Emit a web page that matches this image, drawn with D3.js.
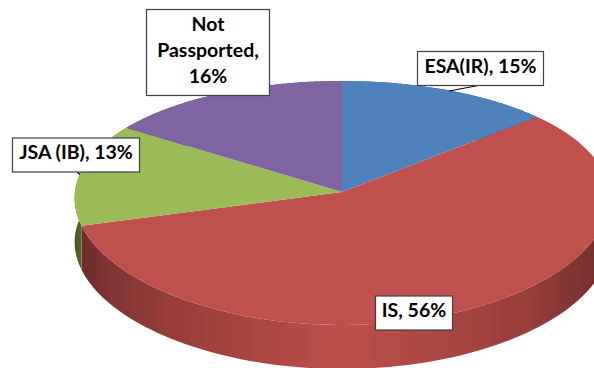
<!DOCTYPE html>
<html><head><meta charset="utf-8">
<script src="https://cdnjs.cloudflare.com/ajax/libs/d3/7.8.5/d3.min.js"></script>
<style>html,body{margin:0;padding:0;background:#fff}svg{display:block}</style>
</head><body><svg id="c" width="594" height="368"></svg>
<script>
// Data: printed label percentages, and wedge shares
const categories = ["ESA(IR)", "IS", "JSA (IB)", "Not Passported"];
const labelPercents = [15, 56, 13, 16];
const wedgeShares = [13.6, 57.0, 13.8, 15.6];
const topColors = ["#4f81bd", "#c0504d", "#9bbb59", "#8064a2"];
const wallColors = ["#3a5f8c", "#c0504d", "#4f6228", "#5f4a79"];

const W = 594, H = 368;
const svg = d3.select("#c").attr("viewBox", [0, 0, W, H]);

// Perspective projection of the pie disc onto the page
const apex = {x: 342, y: 192}, A = 267, B = 121, ky = 0.09, kx = 0.05, depth = 44;
const xScale = d3.scaleLinear().domain([0, 1]).range([apex.x, apex.x + A]);
const yScale = d3.scaleLinear().domain([0, 1]).range([apex.y, apex.y - B]);
function project(a, down = 0) {
  const u = Math.sin(a), v = Math.cos(a);
  return [xScale(u / (1 + kx * v)), yScale(v / (1 + ky * v)) + down];
}
const line = d3.line();
const pie = d3.pie().sort(null).value(d => d)(wedgeShares);
const samples = (s, e) => d3.range(0, 121).map(i => s + (e - s) * i / 120);

const defs = svg.append("defs");
const redGrad = defs.append("linearGradient").attr("id", "redWall")
  .attr("gradientUnits", "userSpaceOnUse").attr("x1", 85).attr("x2", 601).attr("y1", 0).attr("y2", 0);
[[0, "#6f2e2c"], [0.05, "#7f3533"], [0.15, "#953c39"], [0.3, "#a74441"], [0.5, "#bd4f4c"],
 [0.7, "#a84643"], [0.85, "#9a3f3c"], [0.95, "#7f3432"], [1, "#702e2c"]]
  .forEach(([o, c]) => redGrad.append("stop").attr("offset", o).attr("stop-color", c));
const greenGrad = defs.append("linearGradient").attr("id", "greenWall")
  .attr("gradientUnits", "userSpaceOnUse").attr("x1", 75).attr("x2", 86).attr("y1", 0).attr("y2", 0);
[[0, "#445522"], [1, "#5f7631"]].forEach(([o, c]) => greenGrad.append("stop").attr("offset", o).attr("stop-color", c));

// Walls first; the back parts end up hidden by the top faces
svg.append("g").selectAll("path").data(pie).join("path")
  .attr("d", d => {
    const arc = samples(d.startAngle, d.endAngle);
    return line([...arc.map(a => project(a)), ...arc.slice().reverse().map(a => project(a, depth))]) + "Z";
  })
  .attr("fill", (d, i) => i === 1 ? "url(#redWall)" : i === 2 ? "url(#greenWall)" : wallColors[i]);

// Top faces
svg.append("g").selectAll("path").data(pie).join("path")
  .attr("d", d => line([[apex.x, apex.y], ...samples(d.startAngle, d.endAngle).map(a => project(a))]) + "Z")
  .attr("fill", (d, i) => topColors[i]);

// Leader lines
const leaders = [[[449, 91], [481, 85]], [[77, 172], [80, 174.5]]];
svg.append("g").selectAll("path").data(leaders).join("path")
  .attr("d", d => line(d)).attr("stroke", "#000").attr("stroke-width", 1.2).attr("fill", "none");

// Labels
const boxes = [
  {x: 417.5, y: 51.5, w: 126, h: 34},
  {x: 375.5, y: 296, w: 77, h: 34},
  {x: 12.5, y: 138, w: 127, h: 34},
  {x: 146.5, y: 9.5, w: 123, h: 86}
];
const labelLines = [
  [`${categories[0]}, ${labelPercents[0]}%`],
  [`${categories[1]}, ${labelPercents[1]}%`],
  [`${categories[2]}, ${labelPercents[2]}%`],
  ["Not", "Passported,", `${labelPercents[3]}%`]
];
const lab = svg.append("g").selectAll("g").data(boxes).join("g");
lab.append("rect")
  .attr("x", d => d.x).attr("y", d => d.y).attr("width", d => d.w).attr("height", d => d.h)
  .attr("fill", "#fff").attr("stroke", "#404040").attr("stroke-width", 1.2);
lab.each(function (d, i) {
  const ls = labelLines[i];
  d3.select(this).selectAll("text").data(ls).join("text")
    .attr("x", d.x + d.w / 2)
    .attr("y", (t, j) => d.y + d.h / 2 + (j - (ls.length - 1) / 2) * 26 + 4)
    .attr("text-anchor", "middle")
    .attr("font-family", "Lato, 'Open Sans', sans-serif")
    .attr("font-weight", 700).attr("font-size", 19.5).attr("fill", "#000")
    .text(t => t);
});
</script></body></html>
